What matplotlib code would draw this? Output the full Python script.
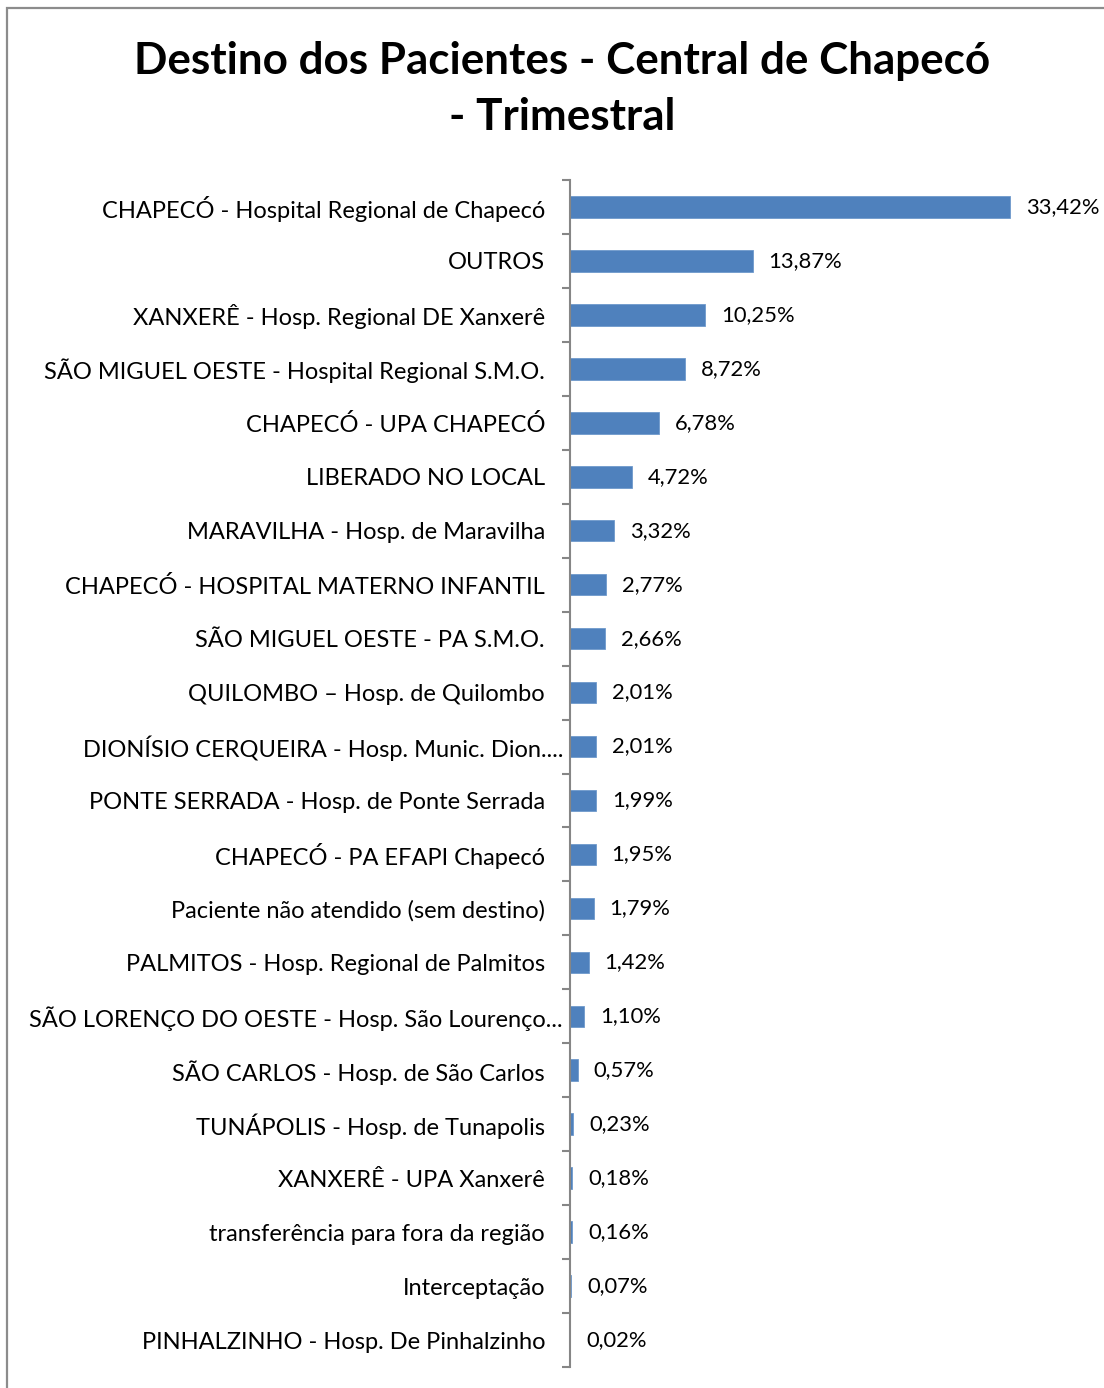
"""Destino dos Pacientes - Central de Chapecó (trimestral), barras horizontais."""
import matplotlib
matplotlib.use("Agg")
import matplotlib.pyplot as plt
from matplotlib.patches import Rectangle

plt.rcParams["font.family"] = ["Lato", "DejaVu Sans"]

TITLE = "Destino dos Pacientes - Central de Chapecó\n- Trimestral"
DESTINOS = [
    "CHAPECÓ - Hospital Regional de Chapecó",
    "OUTROS",
    "XANXERÊ - Hosp. Regional DE Xanxerê",
    "SÃO MIGUEL OESTE - Hospital Regional S.M.O.",
    "CHAPECÓ - UPA CHAPECÓ",
    "LIBERADO NO LOCAL",
    "MARAVILHA - Hosp. de Maravilha",
    "CHAPECÓ - HOSPITAL MATERNO INFANTIL",
    "SÃO MIGUEL OESTE - PA S.M.O.",
    "QUILOMBO – Hosp. de Quilombo",
    "DIONÍSIO CERQUEIRA - Hosp. Munic. Dion....",
    "PONTE SERRADA - Hosp. de Ponte Serrada",
    "CHAPECÓ - PA EFAPI Chapecó",
    "Paciente não atendido (sem destino)",
    "PALMITOS - Hosp. Regional de Palmitos",
    "SÃO LORENÇO DO OESTE - Hosp. São Lourenço...",
    "SÃO CARLOS - Hosp. de São Carlos",
    "TUNÁPOLIS - Hosp. de Tunapolis",
    "XANXERÊ - UPA Xanxerê",
    "transferência para fora da região",
    "Interceptação",
    "PINHALZINHO - Hosp. De Pinhalzinho",
]
PERCENT = [33.42, 13.87, 10.25, 8.72, 6.78, 4.72, 3.32, 2.77, 2.66, 2.01, 2.01,
           1.99, 1.95, 1.79, 1.42, 1.10, 0.57, 0.23, 0.18, 0.16, 0.07, 0.02]
TRUNCADOS = [10, 15]  # rótulos cortados pelo Excel, que chegam mais perto do eixo

BAR = "#4F81BD"
AXIS = "#868686"

fig = plt.figure(figsize=(11.04, 13.88), dpi=100)
# moldura do gráfico (só as bordas superior e esquerda aparecem)
fig.patches.append(Rectangle((7 / 1104, -0.01), 1.2, 1 - 8 / 1388 + 0.01,
                             transform=fig.transFigure, fill=False,
                             edgecolor="#8c8c8c", linewidth=1.6))

ax = fig.add_axes([570 / 1104, 1 - 1367 / 1388, 470 / 1104, (1367 - 180) / 1388])
n = len(DESTINOS)
ys = list(range(n))
ax.barh(ys, PERCENT, height=0.4, color=BAR, edgecolor="#6f99cc", linewidth=0.6)
ax.set_ylim(n - 0.5, -0.5)
ax.set_xlim(0, 35.7)

for y, v in zip(ys, PERCENT):
    ax.annotate(f"{v:.2f}".replace(".", ",") + "%", (v, y), xytext=(11.5, 0),
                textcoords="offset points", ha="left", va="center",
                fontsize=15.8, color="black")

for s in ("top", "right", "bottom"):
    ax.spines[s].set_visible(False)
ax.spines["left"].set_color(AXIS)
ax.spines["left"].set_linewidth(1.5)
ax.set_xticks([])
ax.set_yticks([y - 0.5 for y in range(n + 1)])
ax.set_yticklabels([])
ax.tick_params(axis="y", which="major", length=5.5, width=1.5, color=AXIS, direction="out")
ax.set_yticks(ys, minor=True)
ax.set_yticklabels(DESTINOS, minor=True, fontsize=17)
ax.tick_params(axis="y", which="minor", length=0, pad=18)
for i in TRUNCADOS:
    ax.yaxis.get_minor_ticks()[i].set_pad(5)

fig.text(562 / 1104, 1 - 89 / 1388, TITLE, ha="center", va="center",
         fontsize=31.7, fontweight="bold", linespacing=1.5)

fig.savefig("out.png", dpi=100)
